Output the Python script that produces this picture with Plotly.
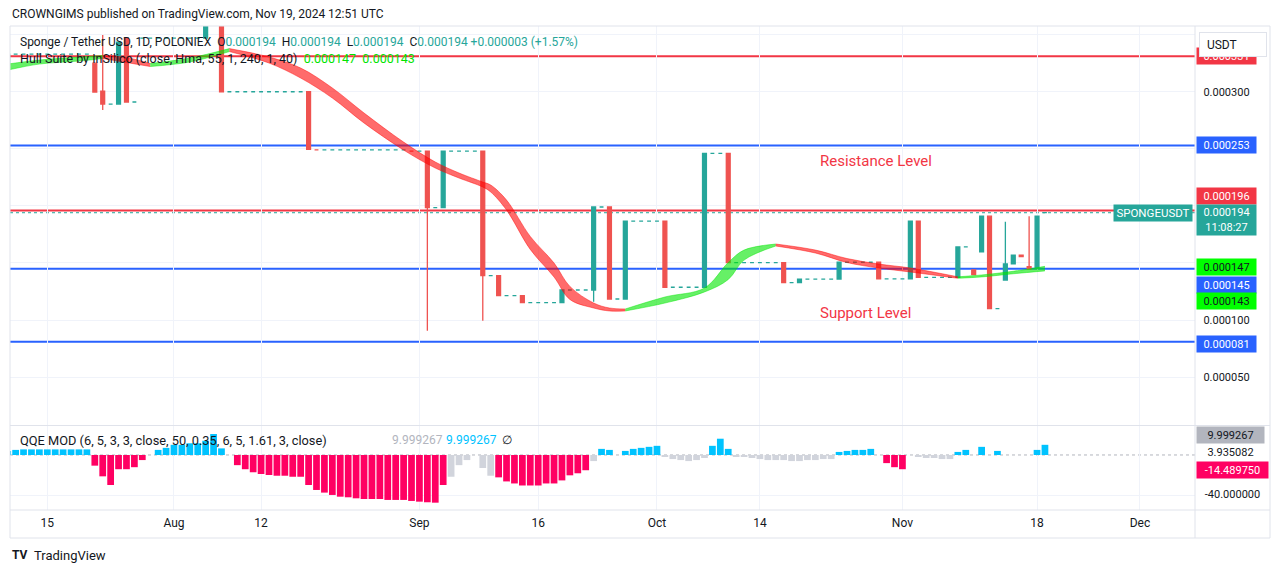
import plotly.graph_objects as go

# ---------------- data (prices in micro-USDT, 1e-6) ----------------
U = 1e-6
bar_idx = list(range(-21, 111))   # bar index, 0 = 1 Aug 2024

opens = [325, 333, 333, 333, 333, 333, 333, 333, 333, 333, 333,
         325, 300.6, 289.2, 289.2, 347, 291,
         347, 347, 347, 347, 347, 347, 347, 347,
         347, 370, 370,
         300, 300, 300, 300, 300, 300, 300, 300, 300, 300,
         300, 249,
         249, 249, 249, 249, 249, 249, 249, 249, 249, 249, 249,
         248, 248,
         248, 198.4, 198.4,
         248, 248, 248, 248,
         248, 138.8, 138.8, 121.3, 121.3, 121.3,
         115.2, 115.2, 115.2, 115.2,
         115.2, 126.3, 126.3, 126.3,
         126.3, 199, 199, 118.4, 118.4,
         186.7, 186.7, 186.7, 186.7,
         186.7, 128.7, 128.7, 128.7, 128.7,
         128.7, 246, 246, 246,
         150.2, 150.2, 150.2, 150.2, 150.2, 150.2,
         150.2, 132.7, 132.7,
         135.9, 135.9, 135.9, 135.9,
         135.9, 150.6, 150.6, 150.6, 150.6,
         150.6, 136, 136, 136,
         136, 186.7,
         137.4, 137.4, 137.4, 137.4,
         137.4, 164, 143.8, 159.8, 191, 110,
         135, 149.1, 156.9, 146.7, 145.3, 194]

highs = [333, 333, 333, 333, 333, 333, 333, 333, 333, 333, 333,
         325, 349.7, 289.2, 343.5, 347, 291,
         347, 347, 347, 347, 347, 347, 347, 347,
         370, 370, 370,
         300, 300, 300, 300, 300, 300, 300, 300, 300, 300,
         300, 249,
         249, 249, 249, 249, 249, 249, 249, 249, 249, 249, 249,
         248, 248,
         248, 198.4, 248,
         248, 248, 248, 248,
         248, 138.8, 138.8, 121.3, 121.3, 121.3,
         115.2, 115.2, 115.2, 115.2,
         126.3, 126.3, 126.3, 126.3,
         199, 199, 199, 118.4, 186.7,
         186.7, 186.7, 186.7, 186.7,
         186.7, 128.7, 128.7, 128.7, 128.7,
         246, 246, 246, 246,
         150.2, 150.2, 150.2, 150.2, 150.2, 150.2,
         150.2, 132.7, 135.9,
         135.9, 135.9, 135.9, 135.9,
         150.6, 150.6, 150.6, 150.6, 150.6,
         150.6, 136, 136, 136,
         186.7, 186.7,
         137.4, 137.4, 137.4, 137.4,
         164, 164, 143.8, 191, 191, 110,
         186.1, 156.9, 156.9, 191, 191, 194]

lows = [325, 333, 333, 333, 333, 333, 333, 333, 333, 333, 333,
        299.7, 284, 289.2, 289.2, 291, 291,
        347, 347, 347, 347, 347, 347, 347, 347,
        347, 370, 300,
        300, 300, 300, 300, 300, 300, 300, 300, 300, 300,
        249.5, 249,
        249, 249, 249, 249, 249, 249, 249, 249, 249, 249, 249,
        248, 248,
        90.6, 198.4, 198.4,
        248, 248, 248, 248,
        99.4, 138.8, 121.3, 121.3, 121.3, 115.2,
        115.2, 115.2, 115.2, 115.2,
        115.2, 126.3, 126.3, 126.3,
        116, 199, 118.4, 118.4, 118.4,
        186.7, 186.7, 186.7, 186.7,
        128.7, 128.7, 128.7, 128.7, 128.7,
        128.7, 246, 246, 150.2,
        150.2, 150.2, 150.2, 150.2, 150.2, 150.2,
        132.7, 132.7, 132.7,
        135.9, 135.9, 135.9, 135.9,
        135.9, 150.6, 150.6, 150.6, 150.6,
        136, 136, 136, 136,
        136, 137.4,
        137.4, 137.4, 137.4, 137.4,
        137.4, 164, 139.7, 159.8, 110, 110,
        135, 149.1, 155.5, 144.7, 145.3, 194]

closes = [333, 333, 333, 333, 333, 333, 333, 333, 333, 333, 333,
          299.7, 289.2, 289.2, 343.5, 291, 291,
          347, 347, 347, 347, 347, 347, 347, 347,
          370, 370, 300,
          300, 300, 300, 300, 300, 300, 300, 300, 300, 300,
          249.5, 249,
          249, 249, 249, 249, 249, 249, 249, 249, 249, 249, 249,
          248, 248,
          198.4, 198.4, 248,
          248, 248, 248, 248,
          138.8, 138.8, 121.3, 121.3, 121.3, 115.2,
          115.2, 115.2, 115.2, 115.2,
          126.3, 126.3, 126.3, 126.3,
          199, 199, 118.4, 118.4, 186.7,
          186.7, 186.7, 186.7, 186.7,
          128.7, 128.7, 128.7, 128.7, 128.7,
          246, 246, 246, 150.2,
          150.2, 150.2, 150.2, 150.2, 150.2, 150.2,
          132.7, 132.7, 135.9,
          135.9, 135.9, 135.9, 135.9,
          150.6, 150.6, 150.6, 150.6, 150.6,
          136, 136, 136, 136,
          186.7, 137.4,
          137.4, 137.4, 137.4, 137.4,
          164, 164, 139.7, 191, 110, 110,
          149.1, 156.9, 155.5, 144.7, 191, 194]

# Hull Suite band (key bars, mid value and band thickness, micro-USDT)
hull_idx = [-21, -17, -12, -9, -6, -3, 2, 7, 12, 16, 20, 24, 29, 33, 36, 39, 40, 42,
            45, 48, 50, 53, 55, 57, 62, 67, 70, 72, 76, 81, 85, 89, 93, 99, 102, 106, 110]
hull_mid = [321.6, 326.0, 328.6, 330.4, 327.8, 323.4, 327.8, 336.5, 327.8, 316.4, 298.9,
            277.0, 252.4, 235.8, 226.6, 218.7, 215.2, 200.7, 167.5, 143.8, 123.7, 112.7,
            109.2, 108.8, 117.5, 126.3, 142.9, 156.9, 165.7, 160.0, 152.1, 147.3, 143.8,
            137.2, 138.6, 141.6, 145.0]
hull_width = [5.3, 3.5, 3.5, 2.6, 4.4, 2.6, 3.5, 2.6, 5.3, 8.8, 8.8, 8.8, 7.0, 5.3, 4.4,
              4.4, 6.1, 8.8, 11.4, 12.3, 11.4, 4.4, 2.6, 1.75, 5.3, 3.5, 14.9, 8.8, 1.75,
              2.6, 3.5, 3.5, 3.5, 1.3, 1.75, 2.2, 4.0]

# QQE MOD histogram per bar
qqe_hist = [4, 5, 5.5, 5.5, 5.5, 5.5, 5.5, 5.5, 5.5, 5.5, 5.5,
            -10.5, -21, -29.5, -14, -14, -12, -5,
            0,
            5, 7, 10, 10, 11.5, 11.5, 14, 20.6, 6.5,
            0,
            -10, -14, -17, -18.7, -19.7, -20.4, -20.4, -21.4, -21.4, -29.5, -34.4, -37,
            -39.3, -41, -41.6, -42.6, -43.3, -43.3, -43.3, -44.2, -44.2, -44.2, -45.2,
            -45.9, -46.5, -46.9, -29.5,
            -21.4, -10, -5, 0, -12.8, -20.4,
            -22, -26, -28, -30, -30, -30, -28, -28, -25, -20, -18, -15,
            -6, 6, 5, 0, 4, 6, 7, 8, 9,
            -2, -4, -5, -6, -5, -3,
            9, 16, 6,
            -2, -2,
            -3, -4, -5, -5, -5, -6, -6, -5, -5, -4, -4,
            3, 4, 5, 5, 6,
            0,
            -8, -12, -14,
            0, -2,
            -3, -3, -4, -4,
            3, 5, 0, 8, 0, 4, 0, 0, 0, 0, 5, 10]
qqe_state = "".join("bbbbbbbbbbb rrrrrrr g bbbbbbbbb g rrrrrrrrrrrrrrrrrrrrrrrrrrr gggggg "
                    "rrrrrrrrrrrr g bb g bbbbb gggggg bbb ggggggggggggg bbbbb g rrr gggggg "
                    "bb g b g b gggg bb".split())

tick_idx = [-16, 0, 11, 31, 46, 61, 74, 92, 109, 122]
tick_text = ["15", "Aug", "12", "Sep", "16", "Oct", "14", "Nov", "18", "Dec"]

red_levels = [0.000331, 0.000196]
blue_levels = [0.000253, 0.000145, 0.000081]
last_price = 0.000194
hull_last = [0.000147, 0.000143]
qqe_labels = [9.999267, 3.935082, -14.489750, -40.0]

assert len(opens) == len(highs) == len(lows) == len(closes) == len(bar_idx) == len(qqe_hist) == len(qqe_state)

# ---------------- style ----------------
FONT = "Roboto"
TXT = "#131722"
TEAL = "#26a69a"
CRED = "#ef5350"
LRED = "#f23645"
BLUE = "#2962ff"
LIME = "#00ff00"
QBLUE = "#00c3ff"
QRED = "#ff0062"
QGRAY = "#d1d4dc"
GRID = "#f0f3fa"
BORDER = "#e0e3eb"

OFF = 8                      # page body margin
L, R, T, B = 10, 1195, 26, 510   # plot area in screen pixels
W, H = 1281 - 2 * OFF, 573 - 2 * OFF


def xp(px):
    return (px - L) / (R - L)


def yp(py):
    return (B - py) / (B - T)


fig = go.Figure()

# candles, split by colour
up = dict(x=[], o=[], h=[], l=[], c=[])
dn = dict(x=[], o=[], h=[], l=[], c=[])
prev_c = None
for i, o, h, l, c in zip(bar_idx, opens, highs, lows, closes):
    is_up = c > o or (c == o and (prev_c is None or c >= prev_c))
    tgt = up if is_up else dn
    tgt["x"].append(i)
    tgt["o"].append(o * U)
    tgt["h"].append(h * U)
    tgt["l"].append(l * U)
    tgt["c"].append(c * U)
    prev_c = c

for d, col in ((up, TEAL), (dn, CRED)):
    fig.add_trace(go.Candlestick(
        x=d["x"], open=d["o"], high=d["h"], low=d["l"], close=d["c"],
        increasing=dict(line=dict(color=col, width=1.3), fillcolor=col),
        decreasing=dict(line=dict(color=col, width=1.3), fillcolor=col),
        whiskerwidth=0, xaxis="x", yaxis="y", hoverinfo="skip"))

# Hull band segments coloured by direction
segs = []
cur = [0]
cur_dir = None
for k in range(1, len(hull_idx)):
    d = 1 if hull_mid[k] > hull_mid[k - 1] else -1
    if cur_dir is None or d == cur_dir:
        cur.append(k)
        cur_dir = d
    else:
        segs.append((cur, cur_dir))
        cur = [k - 1, k]
        cur_dir = d
segs.append((cur, cur_dir))

for ks, d in segs:
    xs = [hull_idx[k] for k in ks]
    lo = [(hull_mid[k] - hull_width[k] / 2) * U for k in ks]
    hi = [(hull_mid[k] + hull_width[k] / 2) * U for k in ks]
    fillc = "rgba(0,230,0,0.6)" if d > 0 else "rgba(255,0,0,0.58)"
    edge = "rgba(0,230,0,0.45)" if d > 0 else "rgba(255,0,0,0.45)"
    fig.add_trace(go.Scatter(x=xs, y=lo, mode="lines", line=dict(color=edge, width=1, shape="spline"),
                             xaxis="x", yaxis="y", hoverinfo="skip"))
    fig.add_trace(go.Scatter(x=xs, y=hi, mode="lines", line=dict(color=edge, width=1, shape="spline"),
                             fill="tonexty", fillcolor=fillc, xaxis="x", yaxis="y", hoverinfo="skip"))

# QQE histogram
cmap = {"b": QBLUE, "r": QRED, "g": QGRAY}
fig.add_trace(go.Bar(x=bar_idx, y=qqe_hist, marker=dict(color=[cmap[s] for s in qqe_state], line=dict(width=0)),
                     xaxis="x", yaxis="y2", hoverinfo="skip"))

# ---------------- shapes ----------------
shapes = []
for v in red_levels:
    shapes.append(dict(type="line", xref="paper", x0=0, x1=1, yref="y", y0=v, y1=v,
                       line=dict(color=LRED, width=2), layer="between"))
for v in blue_levels:
    shapes.append(dict(type="line", xref="paper", x0=0, x1=1, yref="y", y0=v, y1=v,
                       line=dict(color=BLUE, width=2), layer="between"))
shapes.append(dict(type="line", xref="paper", x0=0, x1=1, yref="y", y0=last_price, y1=last_price,
                   line=dict(color=TEAL, width=1, dash="dot"), layer="between"))
shapes.append(dict(type="line", xref="paper", x0=0, x1=1, yref="y2", y0=0, y1=0,
                   line=dict(color="#b2b5be", width=1, dash="dot"), layer="between"))
# frame / separators
for py in (T, 425.5, B, 538):
    shapes.append(dict(type="line", xref="paper", yref="paper", x0=xp(L), x1=xp(1270), y0=yp(py), y1=yp(py),
                       line=dict(color=BORDER, width=1)))
for px in (L, R, 1270):
    shapes.append(dict(type="line", xref="paper", yref="paper", x0=xp(px), x1=xp(px), y0=yp(T), y1=yp(538),
                       line=dict(color=BORDER, width=1)))

# ---------------- annotations ----------------
ann = []


def text(px, py, s, size=12, color=TXT, anchor="left"):
    ann.append(dict(xref="paper", yref="paper", x=xp(px), y=yp(py), xanchor=anchor, yanchor="middle",
                    text=s, showarrow=False, font=dict(family=FONT, size=size, color=color)))


text(10, 14, "CROWNGIMS published on TradingView.com, Nov 19, 2024 12:51 UTC", 12)
tv = "<span style='color:%s'>" % TEAL
text(18, 42, "Sponge / Tether USD, 1D, POLONIEX  O" + tv + "0.000194</span>  H" + tv + "0.000194</span>  L"
     + tv + "0.000194</span>  C" + tv + "0.000194 +0.000003 (+1.57%)</span>", 12)
text(18, 58, "Hull Suite by InSilico (close, Hma, 55, 1, 240, 1, 40)  <span style='color:#00e400'>"
     + "%.6f  %.6f</span>" % tuple(hull_last), 12.5)
text(18, 440, "QQE MOD (6, 5, 3, 3, close, 50, 0.35, 6, 5, 1.61, 3, close)", 12.8)
text(390, 440, "%.6f" % qqe_labels[0], 12, "#b2b5be")
text(444, 440, "%.6f" % qqe_labels[0], 12, QBLUE)
text(500, 440, "∅", 12, TXT)
text(10, 555, "<b>TV</b>", 12, TXT)
text(32, 555, "TradingView", 13, TXT)

ann.append(dict(xref="x", yref="y", x=81.3, y=0.0002393, xanchor="left", yanchor="middle",
                text="Resistance Level", showarrow=False, font=dict(family=FONT, size=15, color=LRED)))
ann.append(dict(xref="x", yref="y", x=81.3, y=0.0001061, xanchor="left", yanchor="middle",
                text="Support Level", showarrow=False, font=dict(family=FONT, size=15, color=LRED)))


def rlabel(val, s, bg=None, fg=TXT, yref="y", shift=0, w=57, h=14):
    d = dict(xref="paper", x=xp(1196), xanchor="left", yref=yref, y=val, yanchor="middle", yshift=shift,
             text=s, showarrow=False, font=dict(family=FONT, size=11, color=fg), width=w, height=h,
             borderpad=1, align="center")
    if bg:
        d["bgcolor"] = bg
    ann.append(d)


rlabel(red_levels[0], "%.6f" % red_levels[0], LRED, "white")
for v in (0.0003, 0.0001, 0.00005):
    rlabel(v, "%.6f" % v)
rlabel(blue_levels[0], "%.6f" % blue_levels[0], BLUE, "white")
rlabel(red_levels[1], "%.6f" % red_levels[1], LRED, "white", shift=14)
rlabel(last_price, "%.6f<br>11:08:27" % last_price, TEAL, "white", shift=-7, h=28)
rlabel(hull_last[0], "%.6f" % hull_last[0], LIME, TXT, shift=-1)
rlabel(blue_levels[1], "%.6f" % blue_levels[1], BLUE, "white", shift=-16)
rlabel(hull_last[1], "%.6f" % hull_last[1], LIME, TXT, shift=-30)
rlabel(blue_levels[2], "%.6f" % blue_levels[2], BLUE, "white", shift=-2)

rlabel(qqe_labels[0], "%.6f" % qqe_labels[0], "#b2b5be", TXT, yref="y2", shift=10, w=65)
rlabel(qqe_labels[1], "%.6f" % qqe_labels[1], None, TXT, yref="y2", shift=-1, w=65)
rlabel(qqe_labels[2], "%.6f" % qqe_labels[2], QRED, "white", yref="y2", shift=0, w=69)
rlabel(qqe_labels[3], "%.6f" % qqe_labels[3], None, TXT, yref="y2", shift=2, w=69)

# symbol tag
ann.append(dict(xref="paper", x=xp(1193), xanchor="right", yref="y", y=last_price, yanchor="middle",
                text="SPONGEUSDT", showarrow=False, bgcolor=TEAL, width=76, height=14, borderpad=1,
                font=dict(family=FONT, size=11.5, color="white")))
# USDT button (drawn last, covers top label)
ann.append(dict(xref="paper", x=xp(1199), xanchor="left", yref="paper", y=yp(44.5), yanchor="middle",
                text="&nbsp;&nbsp;USDT", showarrow=False, bgcolor="white", bordercolor=BORDER, borderwidth=1,
                width=64, height=21, borderpad=1, align="left",
                font=dict(family=FONT, size=12, color=TXT)))

fig.update_layout(
    width=W, height=H,
    margin=dict(l=L - OFF, r=W - (R - OFF), t=T - OFF, b=H - (B - OFF)),
    paper_bgcolor="white", plot_bgcolor="white",
    showlegend=False, bargap=0.15, boxgap=0.3,
    font=dict(family=FONT, color=TXT),
    shapes=shapes, annotations=ann,
    xaxis=dict(range=[-20.71, 128.95], tickmode="array", tickvals=tick_idx, ticktext=tick_text,
               showgrid=True, gridcolor=GRID, zeroline=False, anchor="y2", ticks="",
               tickfont=dict(family=FONT, size=12, color=TXT), rangeslider=dict(visible=False),
               showline=False, ticklabelstandoff=4),
    yaxis=dict(domain=[(B - 425) / (B - T), 1], range=[8.0e-6, 3.576e-4], side="right",
               tickmode="array", tickvals=[0.00005, 0.0001, 0.00015, 0.0002, 0.00025, 0.0003, 0.00035],
               showticklabels=False, showgrid=True, gridcolor=GRID, zeroline=False),
    yaxis2=dict(domain=[0, (B - 426) / (B - T)], range=[-54.1, 28.5], side="right",
                tickmode="array", tickvals=[-40], showticklabels=False, showgrid=True, gridcolor=GRID,
                zeroline=False),
)

fig.write_html("out.html")
